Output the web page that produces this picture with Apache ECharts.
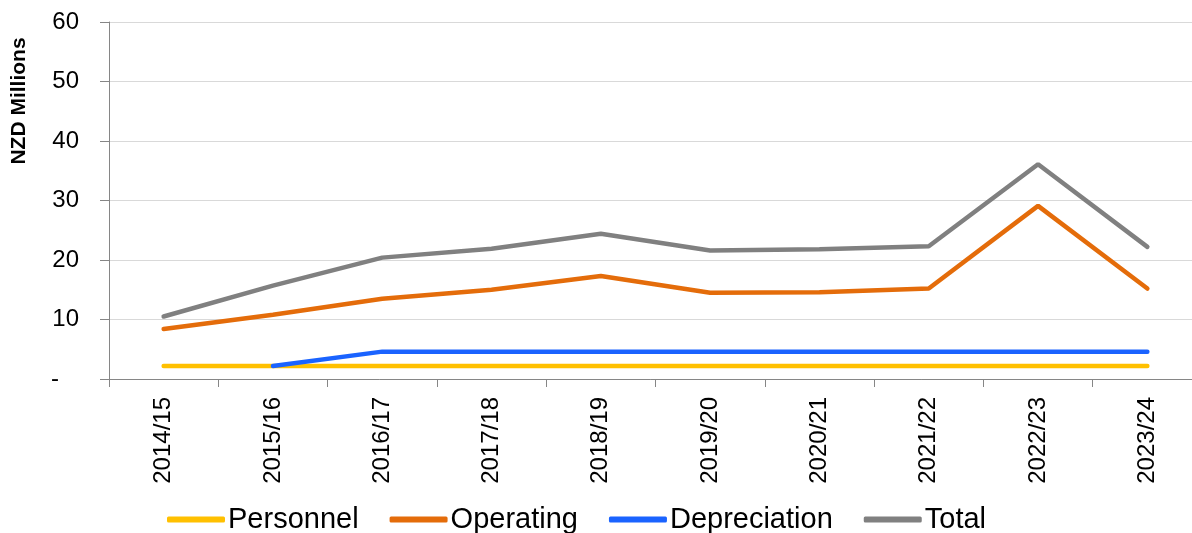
<!DOCTYPE html>
<html>
<head>
<meta charset="utf-8">
<script src="https://cdn.jsdelivr.net/npm/echarts@6/dist/echarts.min.js"></script>
<style>
  html, body { margin: 0; padding: 0; background: #fff; }
  #chart { width: 1192px; height: 533px; }
</style>
</head>
<body>
<div id="chart"></div>
<script>
var years = ['2014/15', '2015/16', '2016/17', '2017/18', '2018/19', '2019/20', '2020/21', '2021/22', '2022/23', '2023/24'];
var personnel = [2.2, 2.2, 2.2, 2.2, 2.2, 2.2, 2.2, 2.2, 2.2, 2.2];
var operating = [8.4, 10.8, 13.5, 15.0, 17.3, 14.5, 14.6, 15.2, 29.1, 15.2];
var depreciation = [null, 2.2, 4.6, 4.6, 4.6, 4.6, 4.6, 4.6, 4.6, 4.6];
var total = [10.5, 15.7, 20.4, 21.9, 24.4, 21.6, 21.8, 22.3, 36.1, 22.2];

var chartDom = document.getElementById('chart');
var c = echarts.init(chartDom);
var font = '"Liberation Sans", Arial, sans-serif';

function line(name, data, color) {
  return {
    name: name,
    type: 'line',
    data: data,
    symbol: 'none',
    lineStyle: { width: 4.5, color: color, cap: 'round' },
    itemStyle: { color: color },
    animation: false
  };
}

var option = {
  // plot runs past the right edge of the picture, as in the original
  grid: { left: 109, width: 1093, top: 22, bottom: 154, outerBoundsMode: 'none' },
  legend: {
    left: 162,
    top: 500,
    icon: 'roundRect',
    itemWidth: 58,
    itemHeight: 6,
    itemGap: 31,
    textStyle: { fontFamily: font, fontSize: 29, color: '#000', padding: [0, 0, 0, -2] },
    data: ['Personnel', 'Operating', 'Depreciation', 'Total']
  },
  graphic: [{
    type: 'text',
    x: 19,
    y: 101,
    rotation: Math.PI / 2,
    style: {
      text: 'NZD Millions',
      font: 'bold 21px ' + font,
      fill: '#000',
      textAlign: 'center',
      textVerticalAlign: 'middle'
    }
  }],
  xAxis: {
    type: 'category',
    data: years,
    boundaryGap: true,
    axisLine: { lineStyle: { color: '#868686', width: 1 } },
    axisTick: { show: true, length: 8, interval: 0, lineStyle: { color: '#868686' } },
    axisLabel: { rotate: 90, margin: 18, interval: 0, fontFamily: font, fontSize: 24, color: '#000' }
  },
  yAxis: {
    type: 'value',
    min: 0,
    max: 60,
    interval: 10,
    axisLine: { show: true, lineStyle: { color: '#868686', width: 1 } },
    axisTick: { show: true, length: 9, lineStyle: { color: '#868686' } },
    splitLine: { lineStyle: { color: '#d9d9d9', width: 1 } },
    axisLabel: {
      margin: 30,
      fontFamily: font,
      fontSize: 24,
      color: '#000',
      formatter: function (v) { return v === 0 ? '-   ' : String(v); }
    }
  },
  series: [
    line('Personnel', personnel, '#FFC000'),
    line('Operating', operating, '#E46C0A'),
    line('Depreciation', depreciation, '#1A63FF'),
    line('Total', total, '#808080')
  ]
};

c.setOption(option);
</script>
</body>
</html>
